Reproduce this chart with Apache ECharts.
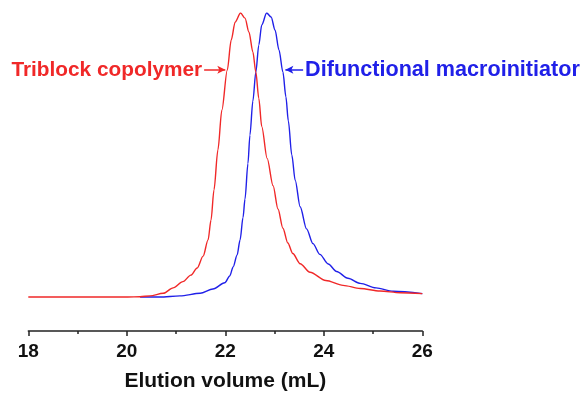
<!DOCTYPE html>
<html>
<head>
<meta charset="utf-8">
<script src="https://cdn.jsdelivr.net/npm/echarts@6/dist/echarts.min.js"></script>
<style>
  html, body { margin: 0; padding: 0; background: #fff; }
  #chart { width: 582px; height: 394px; }
</style>
</head>
<body>
<div id="chart"></div>
<script>
// GPC traces: elution volume (mL) vs normalised RI response
const triblockVol = [18.0, 19.0, 20.02, 20.27, 20.47, 20.74, 20.94, 21.14, 21.30, 21.43, 21.55, 21.65, 21.71, 21.77, 21.85, 21.93, 22.04, 22.12, 22.20, 22.31, 22.40, 22.48, 22.56, 22.62, 22.68, 22.74, 22.85, 22.97, 23.07, 23.17, 23.27, 23.37, 23.52, 23.72, 24.04, 24.39, 24.74, 25.14, 25.55, 26.0];
const triblockSignal = [0, 0, 0, 0.001, 0.004, 0.013, 0.032, 0.054, 0.077, 0.102, 0.144, 0.201, 0.271, 0.377, 0.518, 0.658, 0.799, 0.905, 0.968, 1.0, 0.982, 0.933, 0.863, 0.792, 0.700, 0.600, 0.488, 0.392, 0.310, 0.242, 0.190, 0.153, 0.117, 0.087, 0.058, 0.041, 0.030, 0.021, 0.015, 0.012];

const macroVol = [20.27, 20.67, 21.08, 21.49, 21.75, 21.99, 22.09, 22.16, 22.24, 22.30, 22.36, 22.40, 22.46, 22.50, 22.56, 22.62, 22.68, 22.74, 22.84, 22.93, 23.01, 23.09, 23.17, 23.23, 23.28, 23.35, 23.42, 23.52, 23.65, 23.78, 23.92, 24.09, 24.26, 24.49, 24.74, 25.06, 25.41, 26.0];
const macroSignal = [0, 0, 0.004, 0.013, 0.028, 0.050, 0.074, 0.106, 0.148, 0.201, 0.280, 0.345, 0.470, 0.570, 0.690, 0.792, 0.887, 0.958, 1.0, 0.986, 0.940, 0.870, 0.792, 0.705, 0.620, 0.500, 0.410, 0.318, 0.240, 0.188, 0.150, 0.116, 0.090, 0.066, 0.048, 0.032, 0.020, 0.012];

const xTicks = [18, 20, 22, 24, 26];
const seriesNames = ['Triblock copolymer', 'Difunctional macroinitiator'];

// label arrows: [from, to] in mL at a common signal level
const labelLevel = 0.8;
const triblockArrow = [21.57, 22.0];
const macroArrow = [23.58, 23.22];

const RED = '#f02828';
const BLUE = '#2020e8';
const FONT = '"Liberation Sans", Arial, sans-serif';

const zip = (xs, ys) => xs.map((x, i) => [x, ys[i]]);

function arrowMark(span, name, color, size) {
  return {
    silent: true,
    animation: false,
    symbol: ['none', 'arrow'],
    symbolSize: [6, 8],
    lineStyle: { color: color, width: 1.5, type: 'solid' },
    label: {
      show: true,
      position: 'start',
      distance: 2,
      formatter: name,
      color: color,
      fontFamily: FONT,
      fontWeight: 'bold',
      fontSize: size
    },
    data: [[{ coord: [span[0], labelLevel] }, { coord: [span[1], labelLevel] }]]
  };
}

const chart = echarts.init(document.getElementById('chart'), null, { renderer: 'canvas' });
chart.setOption({
  animation: false,
  backgroundColor: '#fff',
  grid: { left: 28.3, right: 159.7, top: 13, bottom: 63, containLabel: false, outerBoundsMode: 'none' },
  xAxis: {
    type: 'value',
    min: xTicks[0],
    max: xTicks[xTicks.length - 1],
    interval: 2,
    name: 'Elution volume (mL)',
    nameLocation: 'middle',
    nameGap: 40,
    nameTextStyle: { fontFamily: FONT, fontWeight: 'bold', fontSize: 21, color: '#111' },
    axisLine: { onZero: false, lineStyle: { color: '#222', width: 1.5 } },
    axisTick: { show: true, inside: false, length: 5, lineStyle: { color: '#222', width: 1.5 } },
    minorTick: { show: true, splitNumber: 2, length: 3, lineStyle: { color: '#222', width: 1.5 } },
    splitLine: { show: false },
    minorSplitLine: { show: false },
    axisLabel: { margin: 11, fontFamily: FONT, fontWeight: 'bold', fontSize: 19, color: '#111' }
  },
  yAxis: {
    type: 'value',
    min: -0.1197,
    max: 1,
    show: false,
    splitLine: { show: false }
  },
  series: [
    {
      name: seriesNames[1],
      type: 'line',
      data: zip(macroVol, macroSignal),
      showSymbol: false,
      smooth: 0.3,
      smoothMonotone: 'x',
      lineStyle: { color: BLUE, width: 1.4 },
      markLine: arrowMark(macroArrow, seriesNames[1], BLUE, 21.6)
    },
    {
      name: seriesNames[0],
      type: 'line',
      data: zip(triblockVol, triblockSignal),
      showSymbol: false,
      smooth: 0.3,
      smoothMonotone: 'x',
      lineStyle: { color: RED, width: 1.4 },
      markLine: arrowMark(triblockArrow, seriesNames[0], RED, 20.8)
    }
  ]
});
</script>
</body>
</html>
